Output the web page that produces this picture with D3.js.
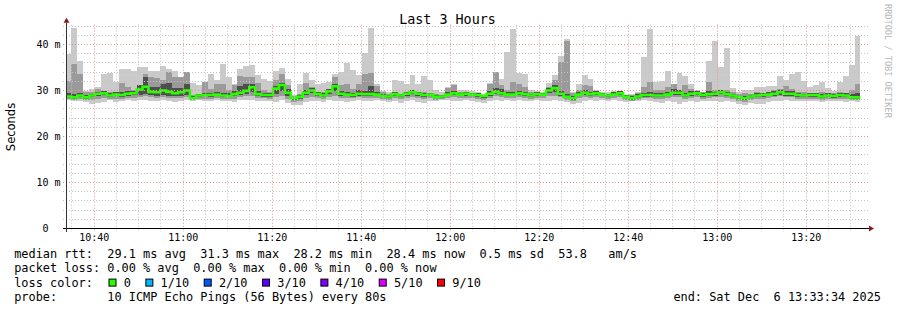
<!DOCTYPE html>
<html>
<head>
<meta charset="utf-8">
<script src="https://cdn.jsdelivr.net/npm/d3@7"></script>
<style>
  body { margin: 0; background: #fff; }
  svg { display: block; }
  text { font-family: "DejaVu Sans Mono", monospace; fill: #000; white-space: pre; }
</style>
</head>
<body>
<div id="chart"></div>
<script>
// one value per 80 s step, in ms (10 pings per step)
var median = [
  28.6,28.4,28.8,28.4,28.8,29.2,29.3,28.8,29.0,28.9,29.2,29.3,30.1,30.7,29.6,29.5,29.9,29.6,29.3,29.5,29.9,28.2,28.8,28.9,28.9,29.0,28.8,28.7,
  29.1,29.4,29.8,30.6,29.1,28.9,28.9,30.3,31.1,29.4,28.2,28.5,29.4,29.9,29.1,28.8,29.7,30.8,29.2,29.0,28.9,29.2,29.1,29.1,29.0,28.7,28.6,
  29.1,28.8,29.2,29.5,29.2,28.9,29.0,28.5,28.6,29.0,29.3,29.0,29.2,29.0,28.9,28.7,29.2,29.6,29.3,29.0,29.0,29.3,29.1,28.8,29.1,29.0,29.9,
  30.4,29.2,28.5,28.2,29.0,29.4,29.1,29.3,29.0,28.8,29.0,29.3,28.5,28.2,28.6,28.9,28.9,28.8,28.8,29.0,29.4,29.4,28.8,29.2,29.3,28.9,29.1,
  29.2,29.5,29.1,28.8,28.4,28.2,28.6,28.8,28.9,29.0,29.2,29.5,29.2,29.2,28.9,28.8,28.9,28.9,28.6,28.8,28.7,28.9,28.8,28.4,28.4
];
// smoke: outer pair (lightest)
var smokeHi = [
  37.9,43.5,36.3,29.8,30.2,30.6,33.5,33.7,31.7,34.6,34.6,34.1,35.0,34.9,34.1,34.1,35.2,34.5,34.1,32.8,33.9,31.5,31.0,31.7,33.4,32.1,35.7,32.8,
  31.2,34.6,35.2,35.5,33.3,32.5,32.0,34.1,34.8,32.3,29.0,31.4,33.7,32.1,31.4,31.6,31.7,33.5,33.9,35.8,34.3,33.3,38.1,43.5,31.2,29.8,29.5,
  32.1,31.9,31.4,33.3,31.4,33.0,32.1,29.9,29.6,30.6,31.4,29.9,29.9,29.8,29.5,29.2,31.5,34.0,32.5,38.3,43.2,33.7,33.5,29.9,29.8,29.5,31.5,
  33.2,37.5,41.0,29.5,31.2,33.3,32.3,29.9,29.6,29.5,29.8,29.8,29.0,29.2,29.5,37.1,43.2,31.7,31.9,34.1,31.2,33.7,33.0,31.4,29.9,29.6,36.3,
  40.7,35.0,39.2,30.4,29.5,29.9,29.9,30.6,30.6,30.8,30.8,33.0,32.1,33.5,33.9,31.9,30.6,31.0,31.7,30.4,29.8,31.7,33.0,35.4,41.8
];
var smokeLo = [
  27.8,27.6,27.6,27.5,27.0,27.2,27.4,27.8,27.5,27.6,27.8,27.7,27.8,27.8,27.6,27.6,27.8,27.7,27.5,27.6,27.8,27.6,27.8,27.6,27.6,27.8,27.7,27.6,
  27.5,27.8,27.9,27.8,27.6,27.6,27.7,27.4,27.8,27.2,26.8,26.8,27.4,27.6,27.6,27.5,27.8,27.7,27.6,27.5,27.7,27.8,27.6,27.7,27.8,27.6,27.4,
  27.6,27.2,27.6,27.8,27.4,27.2,27.6,27.6,27.8,27.8,27.6,27.7,27.8,27.6,27.4,27.2,27.6,27.8,27.6,27.8,27.7,27.8,27.6,27.7,27.8,27.6,27.6,
  27.8,27.6,27.4,27.0,27.2,27.6,27.8,27.6,27.8,27.7,27.8,27.6,27.5,27.6,27.7,27.8,27.6,27.4,27.2,27.6,27.4,27.0,27.4,27.6,27.5,27.7,27.6,
  27.6,27.5,27.6,27.4,27.0,26.8,27.2,26.9,27.0,27.4,27.6,27.6,27.8,27.6,27.6,27.7,27.6,27.6,27.5,27.6,27.7,27.6,27.5,27.6,27.4
];
// smoke: middle pairs
var smokeHi2 = [
  31.9,35.7,33.5,29.5,29.6,30.3,29.8,29.6,29.4,31.5,30.6,29.9,31.0,33.5,32.8,32.7,32.2,33.9,32.8,32.8,33.9,28.9,29.2,31.7,30.3,31.4,31.4,29.9,
  31.0,33.0,32.8,32.8,31.5,29.9,29.6,32.1,33.5,31.0,28.8,29.2,31.5,30.6,29.4,29.6,30.3,32.8,31.0,31.2,30.3,31.4,33.5,33.6,30.8,29.6,29.2,
  29.4,29.2,29.6,29.9,29.6,29.6,29.4,29.2,28.9,30.4,31.1,29.6,29.4,29.4,29.2,28.9,31.4,34.0,31.0,29.9,31.7,31.4,30.6,29.6,29.2,29.4,30.6,
  32.1,36.1,40.6,29.4,29.9,31.0,30.8,29.8,29.4,29.2,29.4,29.6,28.8,28.9,29.4,30.6,31.7,29.9,29.9,30.6,31.4,29.9,31.0,30.3,29.6,29.6,31.7,
  29.9,29.9,29.9,29.6,29.2,29.4,29.2,29.6,29.4,29.6,29.9,30.3,30.8,30.3,29.6,29.6,29.4,29.4,29.6,29.4,29.4,29.6,29.4,29.9,31.2
];
var smokeLo2 = [
  28.1,27.9,28.1,27.8,27.8,28.0,28.2,28.1,28.0,28.1,28.3,28.3,28.5,28.6,28.4,28.3,28.4,28.3,28.2,28.3,28.5,27.8,28.1,28.1,28.1,28.2,28.1,28.0,
  28.1,28.4,28.6,28.8,28.3,28.2,28.1,28.4,28.6,28.1,27.4,27.6,28.3,28.5,28.2,28.0,28.5,28.7,28.3,28.2,28.2,28.4,28.3,28.3,28.2,28.0,27.9,
  28.3,28.0,28.3,28.5,28.2,28.1,28.2,27.9,28.0,28.3,28.4,28.2,28.3,28.2,28.1,27.9,28.3,28.6,28.4,28.2,28.3,28.4,28.3,28.1,28.3,28.2,28.6,
  28.7,28.4,27.9,27.6,28.2,28.5,28.3,28.4,28.2,28.0,28.2,28.4,27.8,27.6,27.9,28.2,28.2,28.0,28.0,28.2,28.4,28.4,28.0,28.3,28.4,28.1,28.3,
  28.4,28.5,28.3,28.0,27.7,27.5,27.8,28.0,28.1,28.2,28.4,28.6,28.4,28.4,28.1,28.0,28.1,28.1,27.9,28.0,28.0,28.1,28.0,27.8,27.8
];
// smoke: inner pairs (darkest)
var smokeHi3 = [
  29.3,29.2,29.3,28.9,29.2,29.6,29.7,29.3,29.5,29.6,29.8,29.8,31.0,32.9,30.6,30.6,31.2,31.6,30.5,30.4,31.2,28.6,29.2,29.4,29.4,29.6,29.4,29.3,
  29.8,30.8,31.3,31.2,29.8,29.4,29.3,30.9,31.6,30.2,28.5,28.9,30.0,30.5,29.6,29.3,30.3,31.4,29.8,29.5,29.4,29.9,29.8,30.9,29.6,29.1,28.9,
  29.5,29.2,29.6,29.9,29.6,29.3,29.4,28.9,29.0,29.6,29.8,29.4,29.6,29.4,29.3,29.0,29.7,30.4,30.2,29.5,29.6,29.8,29.6,29.2,29.5,29.4,30.4,
  31.0,29.8,29.2,28.7,29.5,29.9,29.6,29.7,29.4,29.2,29.5,29.8,28.9,28.6,29.1,29.4,29.5,29.3,29.3,29.5,30.2,30.0,29.3,29.8,29.8,29.3,29.7,
  29.6,29.9,29.5,29.2,28.8,28.7,29.0,29.3,29.4,29.5,29.7,30.1,29.8,29.7,29.3,29.2,29.3,29.3,29.1,29.3,29.1,29.4,29.3,29.2,29.3
];
var smokeLo3 = [
  28.3,28.1,28.4,28.1,28.4,28.8,28.9,28.5,28.6,28.5,28.8,28.9,29.0,29.1,28.9,28.8,28.9,28.7,28.7,28.8,28.9,28.0,28.5,28.6,28.5,28.6,28.4,28.4,
  28.6,28.9,29.2,29.6,28.7,28.5,28.5,29.2,29.7,28.8,27.9,28.1,28.9,29.3,28.7,28.4,29.1,29.7,28.8,28.6,28.5,28.8,28.7,28.7,28.6,28.4,28.2,
  28.7,28.5,28.8,29.1,28.8,28.5,28.6,28.2,28.3,28.6,28.9,28.7,28.8,28.6,28.5,28.3,28.8,29.1,28.9,28.6,28.6,28.9,28.7,28.5,28.7,28.6,29.3,
  29.6,28.8,28.2,27.9,28.6,29.0,28.7,28.9,28.6,28.4,28.6,28.9,28.2,27.9,28.3,28.5,28.5,28.4,28.4,28.6,29.0,29.0,28.4,28.8,28.9,28.5,28.7,
  28.8,29.1,28.7,28.4,28.1,27.9,28.2,28.4,28.5,28.6,28.8,29.0,28.8,28.8,28.5,28.4,28.5,28.5,28.2,28.4,28.3,28.5,28.4,28.1,28.0
];

var firstStep = new Date(2025, 11, 6, 10, 33, 38);
var stepSeconds = 80;
var timeStart = new Date(2025, 11, 6, 10, 34, 0);
var timeEnd = new Date(2025, 11, 6, 13, 34, 0);

var yTicks = [0, 10, 20, 30, 40];
var yTickLabels = ["0  ", "10 m", "20 m", "30 m", "40 m"];

var title = "Last 3 Hours";
var yTitle = "Seconds";
var rttStats = ["29.1 ms avg", "31.3 ms max", "28.2 ms min", "28.4 ms now", "0.5 ms sd", "53.8   am/s"];
var lossStats = ["0.00 % avg", "0.00 % max", "0.00 % min", "0.00 % now"];
var lossLabels = ["0", "1/10", "2/10", "3/10", "4/10", "5/10", "9/10"];
var lossColors = ["#26ff00", "#00b8ff", "#0059ff", "#5e00ff", "#7e00ff", "#dd00ff", "#ff0000"];
var probeText = "10 ICMP Echo Pings (56 Bytes) every 80s";
var endText = "end: Sat Dec  6 13:33:34 2025";
var watermark = "RRDTOOL / TOBI OETIKER";

var width = 897, height = 310;
var left = 67, right = 868, bottom = 228;

var svg = d3.select("#chart").append("svg")
    .attr("width", width)
    .attr("height", height);

var x = d3.scaleTime().domain([timeStart, timeEnd]).range([left, right]);
var y = d3.scaleLinear().domain([0, 44.2]).range([bottom, bottom - 44.2 * 4.6]);
var plotTop = y.range()[1];

svg.append("clipPath").attr("id", "plotClip")
    .append("rect")
    .attr("x", left).attr("y", plotTop)
    .attr("width", right - left).attr("height", bottom - plotTop);

// step points, plus one closing point at the end of the last step
var pts = d3.range(median.length + 1).map(function (k) {
    return { t: new Date(firstStep.getTime() + k * stepSeconds * 1000), i: Math.min(k, median.length - 1) };
});

var plot = svg.append("g").attr("clip-path", "url(#plotClip)");

function band(lo, hi, color) {
    var area = d3.area()
        .curve(d3.curveStepAfter)
        .x(function (d) { return x(d.t); })
        .y0(function (d) { return y(lo[d.i]); })
        .y1(function (d) { return y(hi[d.i]); });
    plot.append("path").datum(pts)
        .attr("d", area)
        .attr("fill", color)
        .attr("shape-rendering", "crispEdges");
}
band(smokeLo, smokeHi, "#cacaca");
band(smokeLo2, smokeHi2, "#9a9a9a");
band(smokeLo3, smokeHi3, "#4e4e4e");

// grid, drawn over the smoke like rrdtool does
var grid = svg.append("g").attr("class", "grid");
var hMinor = d3.range(2, 44.1, 2).filter(function (v) { return v % 10 !== 0; });
grid.selectAll(".hmin").data(hMinor).enter().append("line")
    .attr("x1", left - 4).attr("x2", right)
    .attr("y1", function (d) { return Math.round(y(d)) + 0.5; })
    .attr("y2", function (d) { return Math.round(y(d)) + 0.5; })
    .attr("stroke", "#c4c4c4").attr("stroke-dasharray", "1,2");

var vMinor = d3.timeMinute.every(5).range(timeStart, timeEnd).filter(function (d) { return d.getMinutes() % 20 !== 0; });
grid.selectAll(".vmin").data(vMinor).enter().append("line")
    .attr("x1", function (d) { return Math.round(x(d)) + 0.5; })
    .attr("x2", function (d) { return Math.round(x(d)) + 0.5; })
    .attr("y1", plotTop).attr("y2", bottom + 4)
    .attr("stroke", "#c4c4c4").attr("stroke-dasharray", "1,2");

grid.selectAll(".hmaj").data(yTicks.slice(1)).enter().append("line")
    .attr("x1", left - 4).attr("x2", right)
    .attr("y1", function (d) { return Math.round(y(d)) + 0.5; })
    .attr("y2", function (d) { return Math.round(y(d)) + 0.5; })
    .attr("stroke", "#ec9090").attr("stroke-dasharray", "1,2");

var vMajor = d3.timeMinute.every(20).range(timeStart, timeEnd);
grid.selectAll(".vmaj").data(vMajor).enter().append("line")
    .attr("x1", function (d) { return Math.round(x(d)) + 0.5; })
    .attr("x2", function (d) { return Math.round(x(d)) + 0.5; })
    .attr("y1", plotTop).attr("y2", bottom + 4)
    .attr("stroke", "#ec9090").attr("stroke-dasharray", "1,2");

// median rtt line
var medLine = d3.line()
    .curve(d3.curveStepAfter)
    .x(function (d) { return x(d.t); })
    .y(function (d) { return y(median[d.i]); });
plot.append("path").datum(pts)
    .attr("d", medLine)
    .attr("fill", "none")
    .attr("stroke", lossColors[0])
    .attr("stroke-width", 2.6);

// axes
svg.append("line")
    .attr("x1", left - 4).attr("x2", right + 1)
    .attr("y1", bottom + 0.5).attr("y2", bottom + 0.5)
    .attr("stroke", "#000");
svg.append("line")
    .attr("x1", left - 0.5).attr("x2", left - 0.5)
    .attr("y1", bottom + 4).attr("y2", plotTop - 2)
    .attr("stroke", "#333");
svg.append("path")
    .attr("d", "M" + (right + 1) + "," + (bottom - 2.5) + "L" + (right + 6) + "," + (bottom + 0.5) + "L" + (right + 1) + "," + (bottom + 3.5) + "Z")
    .attr("fill", "#8b1c1c");
svg.append("path")
    .attr("d", "M" + (left - 3.5) + "," + (plotTop - 2) + "L" + (left - 0.5) + "," + (plotTop - 7) + "L" + (left + 2.5) + "," + (plotTop - 2) + "Z")
    .attr("fill", "#8b1c1c");

svg.selectAll(".ylab").data(yTicks).enter().append("text")
    .attr("x", 60.5)
    .attr("y", function (d) { return y(d) + 3.6; })
    .attr("text-anchor", "end")
    .style("font-size", "10px")
    .text(function (d, i) { return yTickLabels[i]; });

var fmt = d3.timeFormat("%H:%M");
svg.selectAll(".xlab").data(vMajor).enter().append("text")
    .attr("x", function (d) { return x(d) + 0.5; })
    .attr("y", 241)
    .attr("text-anchor", "middle")
    .style("font-size", "10px")
    .text(function (d) { return fmt(d); });

svg.append("text")
    .attr("x", 447.5).attr("y", 24)
    .attr("text-anchor", "middle")
    .style("font-size", "13.4px")
    .text(title);

svg.append("text")
    .attr("transform", "translate(15,127) rotate(-90)")
    .attr("text-anchor", "middle")
    .style("font-family", "'DejaVu Sans', sans-serif")
    .style("font-size", "11.5px")
    .text(yTitle);

svg.append("text")
    .attr("transform", "translate(885,4) rotate(90)")
    .style("font-size", "8.6px")
    .style("fill", "#b8b8b8")
    .text(watermark);

// legend
var legX = 14.2, cw = 7.16, lineY = [258, 272.3, 286.6, 300.8];
var leg = svg.append("g").style("font-size", "11.9px");
leg.append("text").attr("x", legX).attr("y", lineY[0])
    .text("median rtt:  " + rttStats.join("  "));
leg.append("text").attr("x", legX).attr("y", lineY[1])
    .text("packet loss: " + lossStats.join("  "));
leg.append("text").attr("x", legX).attr("y", lineY[2])
    .text("loss color:");
var bx = 108.5;
lossLabels.forEach(function (lab, i) {
    leg.append("rect")
        .attr("x", bx + 0.5).attr("y", lineY[2] - 7.5)
        .attr("width", 7).attr("height", 7)
        .attr("fill", lossColors[i])
        .attr("stroke", "#000").attr("stroke-width", 1);
    var tx = bx + 15.2;
    leg.append("text").attr("x", tx).attr("y", lineY[2]).text(lab);
    bx = tx + lab.length * cw + 14.5;
});
leg.append("text").attr("x", legX).attr("y", lineY[3])
    .text("probe:       " + probeText);
leg.append("text").attr("x", 881).attr("y", lineY[3])
    .attr("text-anchor", "end")
    .text(endText);
</script>
</body>
</html>
